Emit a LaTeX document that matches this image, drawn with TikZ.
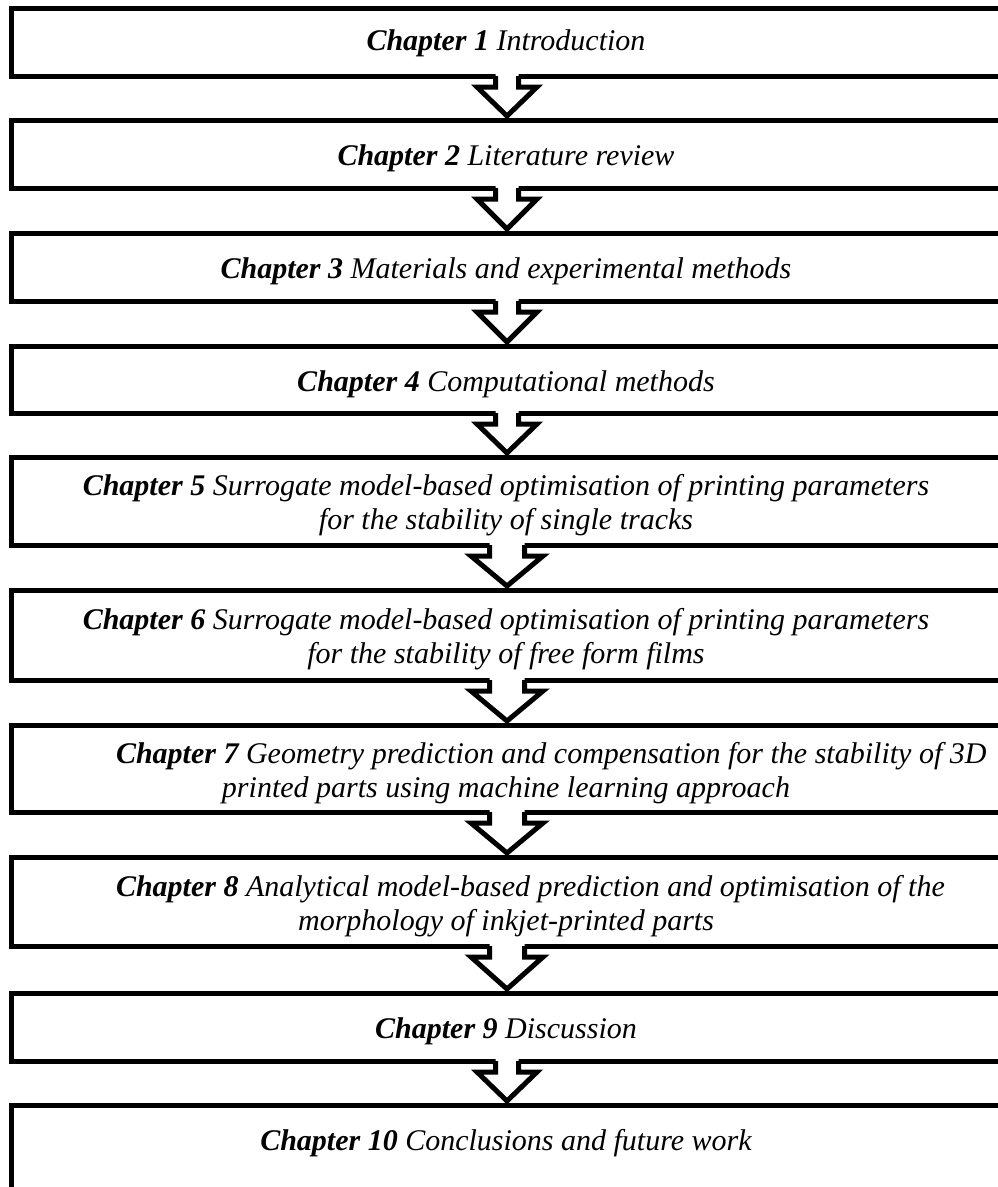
\documentclass[tikz,border=0pt]{standalone}
\usepackage{fontspec}
\setmainfont{Liberation Serif}
\usetikzlibrary{calc}

\tikzset{
  boxline/.style={line width=5pt, black, line join=miter},
  chapbox/.style={boxline, draw, rectangle, inner sep=0pt, outer sep=0pt,
                  minimum width=991pt},
  chaptext/.style={inner sep=0pt, outer sep=0pt, anchor=base,
                   font=\fontsize{30}{34}\selectfont\itshape},
  chaptextw/.style={chaptext, anchor=base west}
}

% block arrow from the bottom of box #1 to the top of box #2
% #3 stem half width, #4 head half width, #5 drop from box to head
\newcommand{\chapterarrow}[5]{%
  \fill[white] ($(#1.south)+(-#3,4)$) -- ($(#1.south)+(-#3,-#5)$)
     -- ($(#1.south)+(-#4,-#5)$) -- ($(#2.north)+(0,4)$)
     -- ($(#1.south)+(#4,-#5)$) -- ($(#1.south)+(#3,-#5)$)
     -- ($(#1.south)+(#3,4)$) -- cycle;
  \draw[boxline] ($(#1.south)+(-#3,0)$) -- ($(#1.south)+(-#3,-#5)$)
     -- ($(#1.south)+(-#4,-#5)$) -- ($(#2.north)+(0,4)$)
     -- ($(#1.south)+(#4,-#5)$) -- ($(#1.south)+(#3,-#5)$)
     -- ($(#1.south)+(#3,0)$);
}

% box: name, top, bottom
\newcommand{\chapterbox}[3]{%
  \node[chapbox, minimum height={(#3-#2)*1pt}] (#1) at (507,{-(#2+#3)/2}) {};
}

\begin{document}
\begin{tikzpicture}[x=1pt,y=1pt]
\useasboundingbox (0,0) rectangle (998,-1187);
\begin{scope}
\clip (0,0) rectangle (998,-1187);
\fill[white] (0,0) rectangle (998,-1187);

\chapterbox{c1}{8}{76}
\chapterbox{c2}{120}{188}
\chapterbox{c3}{233}{301}
\chapterbox{c4}{346}{413}
\chapterbox{c5}{457}{545}
\chapterbox{c6}{590}{680}
\chapterbox{c7}{725}{812}
\chapterbox{c8}{857}{946}
\chapterbox{c9}{993}{1061}
\chapterbox{c10}{1105}{1220}

\chapterarrow{c1}{c2}{11.5}{30}{11}
\chapterarrow{c2}{c3}{11.5}{30}{11}
\chapterarrow{c3}{c4}{11.5}{30}{11}
\chapterarrow{c4}{c5}{11.5}{30}{11}
\chapterarrow{c5}{c6}{17.5}{36}{11}
\chapterarrow{c6}{c7}{17.5}{36}{11}
\chapterarrow{c7}{c8}{17.5}{36}{11}
\chapterarrow{c8}{c9}{17.5}{36}{11}
\chapterarrow{c9}{c10}{11.5}{30}{11}

\node[chaptext] (t1) at (506,-50) {\textbf{Chapter 1} Introduction};
\node[chaptext] (t2) at (506,-165) {\textbf{Chapter 2} Literature review};
\node[chaptext] (t3) at (506,-278) {\textbf{Chapter 3} Materials and experimental methods};
\node[chaptext] (t4) at (506,-391) {\textbf{Chapter 4} Computational methods};
\node[chaptext] (t5a) at (506,-495) {\textbf{Chapter 5} Surrogate model-based optimisation of printing parameters};
\node[chaptext] (t5b) at (506,-529) {for the stability of single tracks};
\node[chaptext] (t6a) at (506,-629) {\textbf{Chapter 6} Surrogate model-based optimisation of printing parameters};
\node[chaptext] (t6b) at (506,-663) {for the stability of free form films};
\node[chaptextw] (t7a) at (116,-763) {\textbf{Chapter 7} Geometry prediction and compensation for the stability of 3D};
\node[chaptext] (t7b) at (506,-797) {printed parts using machine learning approach};
\node[chaptextw] (t8a) at (116,-896) {\textbf{Chapter 8} Analytical model-based prediction and optimisation of the};
\node[chaptext] (t8b) at (506,-930) {morphology of inkjet-printed parts};
\node[chaptext] (t9) at (506,-1038) {\textbf{Chapter 9} Discussion};
\node[chaptext] (t10) at (506,-1150) {\textbf{Chapter 10} Conclusions and future work};
\end{scope}
\end{tikzpicture}
\end{document}
